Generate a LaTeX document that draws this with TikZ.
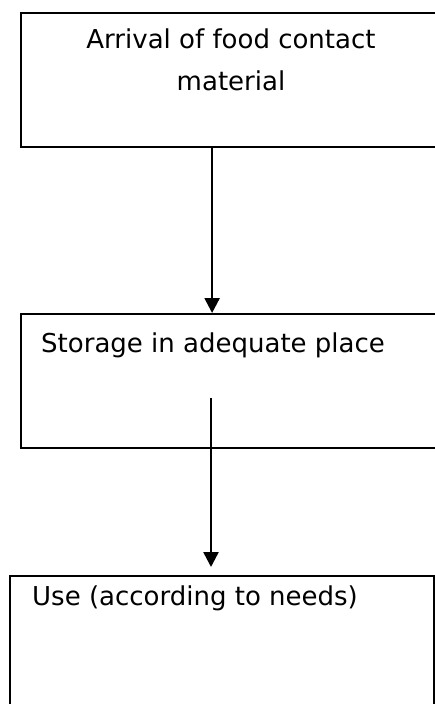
\documentclass[tikz,border=0pt]{standalone}
\usepackage{fontspec}
\setmainfont{DejaVu Sans}
\usetikzlibrary{arrows.meta}

\begin{document}
\begin{tikzpicture}[x=1pt, y=-1pt,
    box/.style={draw, rectangle, line width=2.2pt, anchor=north west, inner sep=0pt},
    txt/.style={inner sep=0pt, font=\fontsize{26}{42}\selectfont},
    flow/.style={line width=2.5pt, -{Triangle[width=15pt, length=15pt]}}]
  \useasboundingbox (0,0) rectangle (435,704);
  \clip (0,0) rectangle (435,704);

  \node[box, minimum width=422pt, minimum height=134pt] (arrival) at (20,12) {};
  \node[box, minimum width=422pt, minimum height=134pt] (storage) at (20,313) {};
  \node[box, minimum width=424pt, minimum height=200pt] (use) at (9,575) {};

  % last line of a two-line node sits on the base anchor
  \node[txt, anchor=base, align=center] (arrivaltxt) at (231,90) {Arrival of food contact\\material};
  \node[txt, anchor=base west] (storagetxt) at (41,352) {Storage in adequate place};
  \node[txt, anchor=base west] (usetxt) at (32,605) {Use (according to needs)};

  \coordinate (from) at (211,398);
  \coordinate (to) at (211,567);

  \draw[flow] ([xshift=-20pt]arrival.south) -- ([xshift=-20pt]storage.north);
  \draw[flow] (from) -- (to);
\end{tikzpicture}
\end{document}
